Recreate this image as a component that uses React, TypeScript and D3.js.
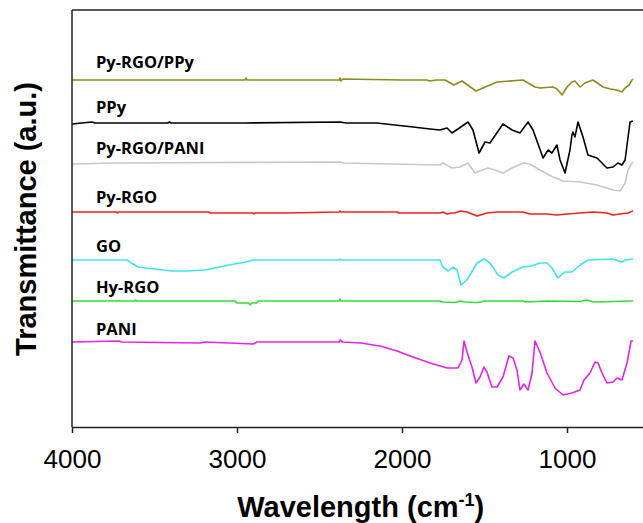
import { useEffect, useRef } from 'react';
import * as d3 from 'd3';

// FTIR spectra, [wavenumber cm-1, transmittance a.u. incl. vertical offset]
const pyRgoPpy: [number, number][] = [
  [4000, 347], [3400, 347], [2950, 347], [2945, 349], [2940, 347], [2380, 347], [2376, 349], [2370, 346],
  [2360, 348], [2000, 347], [1850, 347], [1830, 346], [1790, 347], [1739, 347], [1685, 342], [1636, 346],
  [1552, 336], [1424, 345], [1267, 347], [1194, 340], [1164, 339], [1085, 340], [1061, 338], [1030, 332],
  [1000, 340], [970, 345], [952, 346], [921, 340], [891, 344], [842, 347], [782, 340], [739, 338],
  [697, 337], [667, 335], [648, 339], [624, 342], [606, 347], [600, 348],
];

const ppy: [number, number][] = [
  [4000, 303], [3880, 305], [3860, 304], [3420, 304], [3410, 305], [3400, 304], [2950, 304], [2376, 305],
  [2340, 304], [2152, 304], [1933, 300], [1830, 298], [1770, 297], [1727, 299], [1697, 294], [1661, 298],
  [1600, 305], [1570, 297], [1533, 274], [1497, 285], [1467, 284], [1388, 303], [1333, 297], [1285, 294],
  [1236, 305], [1206, 297], [1145, 269], [1115, 277], [1091, 274], [1061, 282], [1042, 267], [1012, 254],
  [982, 277], [970, 292], [964, 295], [952, 290], [933, 305], [903, 290], [873, 272], [818, 269],
  [758, 259], [721, 260], [691, 264], [667, 262], [648, 267], [618, 305], [600, 306],
];

const pyRgoPani: [number, number][] = [
  [4000, 263], [3740, 264], [2376, 265], [2360, 264], [1770, 262], [1752, 264], [1697, 259], [1648, 260],
  [1600, 264], [1558, 254], [1527, 256], [1479, 259], [1436, 257], [1388, 254], [1333, 259], [1267, 264],
  [1224, 263], [1164, 257], [1085, 250], [1024, 246], [921, 245], [818, 242], [721, 237], [679, 236],
  [648, 244], [630, 257], [606, 264], [600, 265],
];

const pyRgo: [number, number][] = [
  [4000, 215], [3730, 215], [3725, 214], [3720, 215], [3170, 215], [3160, 214], [2900, 214], [2897, 213],
  [2890, 214], [2700, 214], [2380, 215], [2376, 216], [2370, 215], [2030, 215], [2020, 214], [1770, 214],
  [1752, 215], [1727, 213], [1697, 214], [1679, 214], [1648, 216], [1606, 215], [1545, 211], [1485, 214],
  [1424, 215], [1267, 215], [1224, 213], [1121, 213], [1061, 212], [1000, 213], [921, 214], [842, 215],
  [758, 214], [721, 212], [679, 213], [630, 214], [600, 216],
];

const go: [number, number][] = [
  [4000, 167], [3800, 167], [3667, 167], [3640, 164], [3600, 160], [3500, 158], [3394, 156], [3300, 156],
  [3194, 157], [3050, 162], [2945, 165], [2900, 167], [2380, 167], [2376, 168], [2370, 167], [1806, 167],
  [1770, 167], [1752, 160], [1721, 156], [1691, 160], [1667, 157], [1642, 142], [1606, 147], [1545, 164],
  [1503, 168], [1467, 164], [1418, 152], [1382, 149], [1333, 155], [1267, 160], [1212, 161], [1164, 164],
  [1121, 164], [1091, 159], [1055, 149], [1012, 155], [970, 155], [921, 162], [873, 167], [721, 168],
  [667, 165], [648, 167], [600, 168],
];

const hyRgo: [number, number][] = [
  [4000, 126], [3620, 126], [3615, 127], [3610, 126], [3010, 126], [3000, 124], [2930, 124], [2921, 122],
  [2910, 124], [2880, 124], [2870, 126], [2380, 126], [2376, 128], [2370, 126], [1770, 126], [1752, 125],
  [1680, 124.5], [1648, 126], [1620, 125], [1550, 124.5], [1520, 125], [1500, 126], [1267, 126], [1250, 125],
  [1121, 126], [921, 125.5], [880, 127], [840, 125], [600, 126],
];

const pani: [number, number][] = [
  [4000, 85], [3715, 86], [3700, 85], [3220, 84], [3200, 85], [2900, 83], [2880, 85], [2380, 85],
  [2376, 87], [2360, 85], [2250, 84], [2133, 81], [2030, 76], [1933, 70], [1830, 64], [1727, 59],
  [1661, 59], [1636, 67], [1624, 86], [1606, 75], [1576, 60], [1552, 44], [1527, 50], [1503, 60],
  [1485, 55], [1455, 40], [1424, 40], [1388, 50], [1352, 71], [1327, 69], [1303, 57], [1285, 37],
  [1261, 43], [1236, 37], [1212, 54], [1194, 86], [1164, 75], [1121, 54], [1073, 39], [1024, 32],
  [970, 34], [921, 37], [897, 47], [861, 54], [830, 65], [812, 64], [788, 54], [758, 44],
  [721, 45], [697, 49], [667, 47], [636, 64], [612, 86], [600, 86],
];

const seriesNames = ['Py-RGO/PPy', 'PPy', 'Py-RGO/PANI', 'Py-RGO', 'GO', 'Hy-RGO', 'PANI'];
const seriesData = [pyRgoPpy, ppy, pyRgoPani, pyRgo, go, hyRgo, pani];
const seriesColors = ['#8c8c1a', '#000000', '#c8c8c8', '#ee2222', '#3ee4f0', '#33dd33', '#e623e6'];
// label baseline, in the same a.u. as the curves
const labelLevels = [359, 314, 273, 224, 175, 134, 92];
const xTicks = [4000, 3000, 2000, 1000];

export default function App() {
  const svgRef = useRef<SVGSVGElement>(null);

  useEffect(() => {
    const width = 643;
    const height = 523;
    const margin = { top: 10, left: 72, bottom: 96 };

    const svg = d3.select(svgRef.current);
    svg.selectAll('*').remove();

    const x = d3.scaleLinear().domain([4000, 500]).range([margin.left, margin.left + 3500 * 0.165]);
    const y = d3.scaleLinear().domain([0, height - margin.bottom - margin.top]).range([height - margin.bottom, margin.top]);

    const line = d3.line<[number, number]>()
      .x(d => x(d[0]))
      .y(d => y(d[1]));

    seriesData.forEach((s, i) => {
      svg.append('path')
        .datum(s)
        .attr('d', line)
        .attr('fill', 'none')
        .attr('stroke', seriesColors[i])
        .attr('stroke-width', 1.6)
        .attr('stroke-linejoin', 'round');

      svg.append('text')
        .attr('x', 96)
        .attr('y', y(labelLevels[i]))
        .attr('font-family', 'Open Sans')
        .attr('font-weight', 'bold')
        .attr('font-size', 16.5)
        .attr('fill', '#000')
        .text(seriesNames[i]);
    });

    // frame
    const y0 = height - margin.bottom;
    svg.append('line')
      .attr('x1', margin.left).attr('x2', width)
      .attr('y1', margin.top).attr('y2', margin.top)
      .attr('stroke', '#222').attr('stroke-width', 1.5);
    svg.append('line')
      .attr('x1', margin.left).attr('x2', margin.left)
      .attr('y1', margin.top).attr('y2', y0)
      .attr('stroke', '#222').attr('stroke-width', 1.5);

    // x axis
    const axis = svg.append('g')
      .attr('transform', `translate(0,${y0})`)
      .call(d3.axisBottom(x).tickValues(xTicks).tickFormat(d3.format('d')).tickSize(6).tickSizeOuter(0).tickPadding(17));
    axis.select('.domain').attr('stroke', '#222').attr('stroke-width', 1.5);
    axis.selectAll('.tick line').attr('stroke', '#222').attr('stroke-width', 1.5);
    axis.selectAll('.tick text')
      .attr('font-family', 'Liberation Sans, Arial')
      .attr('font-size', 26)
      .attr('fill', '#000');

    svg.append('text')
      .attr('x', (margin.left + x(500)) / 2)
      .attr('y', 517)
      .attr('text-anchor', 'middle')
      .attr('font-family', 'Liberation Sans, Arial')
      .attr('font-weight', 'bold')
      .attr('font-size', 29)
      .attr('fill', '#000')
      .call(t => {
        t.append('tspan').text('Wavelength (cm');
        t.append('tspan').attr('dy', -11).attr('font-size', 18).text('-1');
        t.append('tspan').attr('dy', 11).text(')');
      });

    svg.append('text')
      .attr('transform', `translate(36,219) rotate(-90)`)
      .attr('text-anchor', 'middle')
      .attr('font-family', 'Liberation Sans, Arial')
      .attr('font-weight', 'bold')
      .attr('font-size', 29)
      .attr('fill', '#000')
      .text('Transmittance (a.u.)');
  }, []);

  return (
    <svg
      ref={svgRef}
      width={643}
      height={523}
      style={{ position: 'absolute', left: 0, top: 0, background: '#fff' }}
    />
  );
}
